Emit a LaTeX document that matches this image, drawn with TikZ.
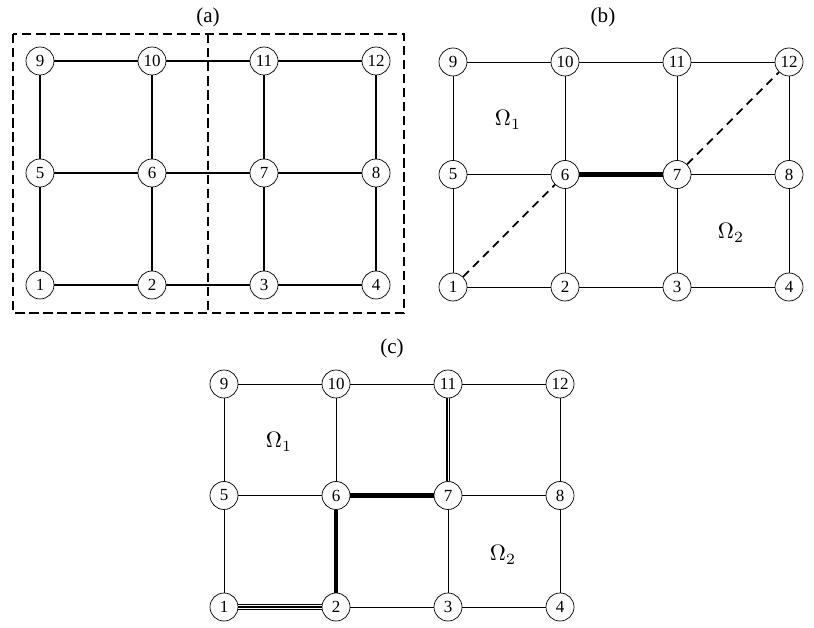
\documentclass[tikz,border=0pt]{standalone}
\usepackage{fontspec}
\setmainfont{Liberation Serif}
\usepackage{tikz}

\begin{document}
\begin{tikzpicture}[x=0.03cm, y=-0.03cm,
    vertex/.style={circle, draw, fill=white, line width=0.6pt, minimum size=0.84cm,
                   inner sep=0pt, font=\fontsize{14.5}{14.5}\selectfont},
    boldedge/.style={line width=1.7pt},
    thinedge/.style={line width=0.6pt},
    cutedge/.style={line width=3.6pt},
    diagedge/.style={line width=1.5pt, dash pattern=on 7pt off 5pt},
    doubleedge/.style={line width=1.4pt, double, double distance=0.8pt},
    wideedge/.style={line width=1.1pt, double, double distance=2.6pt},
    boxline/.style={line width=2.4pt, dash pattern=on 8pt off 4pt},
    panel/.style={font=\fontsize{18}{18}\selectfont}
]
    \useasboundingbox (0,0) rectangle (814,628);

    % panel (a)
    \node[panel] (labela) at (208,17) {(a)};
    \foreach \n in {1,...,12}{
        \pgfmathtruncatemacro{\col}{mod(\n-1,4)}
        \pgfmathtruncatemacro{\row}{(\n-1)/4}
        \node[vertex] (a\n) at (40+112*\col, 285-112*\row) {\n};
    }
    \foreach \i/\j in {1/2,2/3,3/4,5/6,6/7,7/8,9/10,10/11,11/12,
                       1/5,2/6,3/7,4/8,5/9,6/10,7/11,8/12}
        \draw[boldedge] (a\i) -- (a\j);
    \draw[boxline] (13,34) rectangle (404,313);
    \draw[boxline] (208,34) -- (208,313);

    % panel (b)
    \node[panel] (labelb) at (603,17) {(b)};
    \foreach \n in {1,...,12}{
        \pgfmathtruncatemacro{\col}{mod(\n-1,4)}
        \pgfmathtruncatemacro{\row}{(\n-1)/4}
        \node[vertex] (b\n) at (453+112*\col, 287-112.5*\row) {\n};
    }
    \foreach \i/\j in {1/2,2/3,3/4,5/6,7/8,9/10,10/11,11/12,
                       1/5,2/6,3/7,4/8,5/9,6/10,7/11,8/12}
        \draw[thinedge] (b\i) -- (b\j);
    \draw[cutedge] (b6) -- (b7);
    \draw[diagedge] (b1) -- (b6);
    \draw[diagedge] (b7) -- (b12);
    \node (omb1) at (508,120) {\scalebox{1.9}{$\Omega_1$}};
    \node (omb2) at (731,233) {\scalebox{1.9}{$\Omega_2$}};

    % panel (c)
    \node[panel] (labelc) at (392,348) {(c)};
    \foreach \n in {1,...,12}{
        \pgfmathtruncatemacro{\col}{mod(\n-1,4)}
        \pgfmathtruncatemacro{\row}{(\n-1)/4}
        \node[vertex] (c\n) at (224+112*\col, 607-111.5*\row) {\n};
    }
    \foreach \i/\j in {2/3,3/4,5/6,7/8,9/10,10/11,11/12,
                       1/5,3/7,4/8,5/9,6/10,8/12}
        \draw[thinedge] (c\i) -- (c\j);
    \draw[wideedge] (c1) -- (c2);
    \draw[line width=1pt] (c1) -- (c2);
    \draw[cutedge] (c2) -- (c6);
    \draw[cutedge] (c6) -- (c7);
    \draw[doubleedge] (c7) -- (c11);
    \node (omc1) at (279,442) {\scalebox{1.9}{$\Omega_1$}};
    \node (omc2) at (503,555) {\scalebox{1.9}{$\Omega_2$}};
\end{tikzpicture}
\end{document}
